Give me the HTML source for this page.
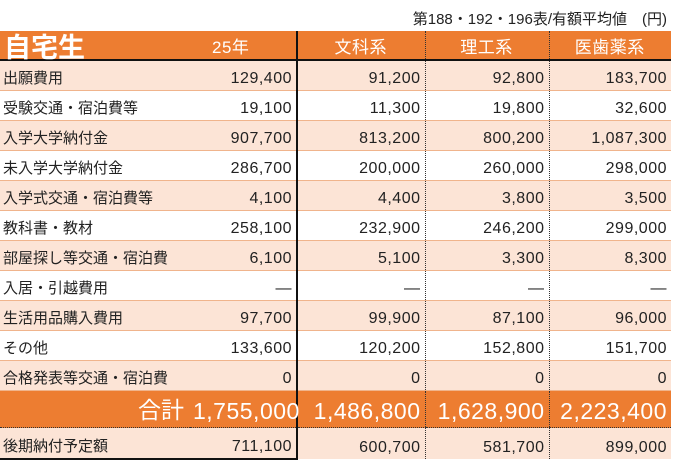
<!DOCTYPE html>
<html><head><meta charset="utf-8"><style>
body{margin:0;width:673px;height:460px;background:#fff;overflow:hidden;font-family:"Liberation Sans Narrow","Liberation Sans","Noto Sans CJK JP",sans-serif;}
.note{position:absolute;top:8px;right:6px;font-size:15px;color:#222;}
table{position:absolute;left:0;top:31px;border-collapse:collapse;table-layout:fixed;width:671px;}
td{padding:0 4px 2px 3px;font-size:16px;color:#222;white-space:nowrap;border-bottom:1px solid #f0b48c;border-left:1px dotted #333;height:27px;text-align:right;vertical-align:bottom;letter-spacing:0.5px;}
td.lab{text-align:left;border-left:none;font-size:15px;letter-spacing:0;}
td.c1{border-right:2px solid #111;}
tr.p td{background:#fce4d6;}
tr.h td{background:#ed7d31;color:#fff;height:27px;text-align:center;font-size:17px;border-bottom:2px solid #111;padding-bottom:1px;}
tr.t td{background:#ed7d31;color:#fff;height:32px;font-size:23px;border-bottom:1px dotted #333;}
tr.l td{height:28px;}
.title{position:absolute;left:4px;top:32px;height:28px;line-height:28px;font-size:27px;font-weight:bold;color:#fff;font-family:"Noto Sans CJK JP",sans-serif;}
</style></head><body>
<div class="note">第188・192・196表/有額平均値　(円)</div>
<table>
<colgroup><col style="width:190px"><col style="width:107px"><col style="width:128px"><col style="width:124px"><col style="width:122px"></colgroup>
<tr class="h"><td class="lab"></td><td class="c1" style="border-left:none;text-align:left;padding-left:22px">25年</td><td>文科系</td><td>理工系</td><td>医歯薬系</td></tr>
<tr class="p"><td class="lab">出願費用</td><td class="c1" style="border-left:none">129,400</td><td>91,200</td><td>92,800</td><td>183,700</td></tr>
<tr><td class="lab">受験交通・宿泊費等</td><td class="c1" style="border-left:none">19,100</td><td>11,300</td><td>19,800</td><td>32,600</td></tr>
<tr class="p"><td class="lab">入学大学納付金</td><td class="c1" style="border-left:none">907,700</td><td>813,200</td><td>800,200</td><td>1,087,300</td></tr>
<tr><td class="lab">未入学大学納付金</td><td class="c1" style="border-left:none">286,700</td><td>200,000</td><td>260,000</td><td>298,000</td></tr>
<tr class="p"><td class="lab">入学式交通・宿泊費等</td><td class="c1" style="border-left:none">4,100</td><td>4,400</td><td>3,800</td><td>3,500</td></tr>
<tr><td class="lab">教科書・教材</td><td class="c1" style="border-left:none">258,100</td><td>232,900</td><td>246,200</td><td>299,000</td></tr>
<tr class="p"><td class="lab">部屋探し等交通・宿泊費</td><td class="c1" style="border-left:none">6,100</td><td>5,100</td><td>3,300</td><td>8,300</td></tr>
<tr><td class="lab">入居・引越費用</td><td class="c1" style="border-left:none">—</td><td>—</td><td>—</td><td>—</td></tr>
<tr class="p"><td class="lab">生活用品購入費用</td><td class="c1" style="border-left:none">97,700</td><td>99,900</td><td>87,100</td><td>96,000</td></tr>
<tr><td class="lab">その他</td><td class="c1" style="border-left:none">133,600</td><td>120,200</td><td>152,800</td><td>151,700</td></tr>
<tr class="p"><td class="lab">合格発表等交通・宿泊費</td><td class="c1" style="border-left:none">0</td><td>0</td><td>0</td><td>0</td></tr>
<tr class="t"><td class="lab" style="text-align:right;padding-right:6px;font-size:23px">合計</td><td class="c1" style="border-left:none">1,755,000</td><td>1,486,800</td><td>1,628,900</td><td>2,223,400</td></tr>
<tr class="p l"><td class="lab" style="border-bottom:2px solid #111">後期納付予定額</td><td class="c1" style="border-left:none;border-bottom:2px solid #111">711,100</td><td style="border-bottom:none">600,700</td><td style="border-bottom:none">581,700</td><td style="border-bottom:none">899,000</td></tr>
</table>
<div class="title">自宅生</div>
</body></html>
